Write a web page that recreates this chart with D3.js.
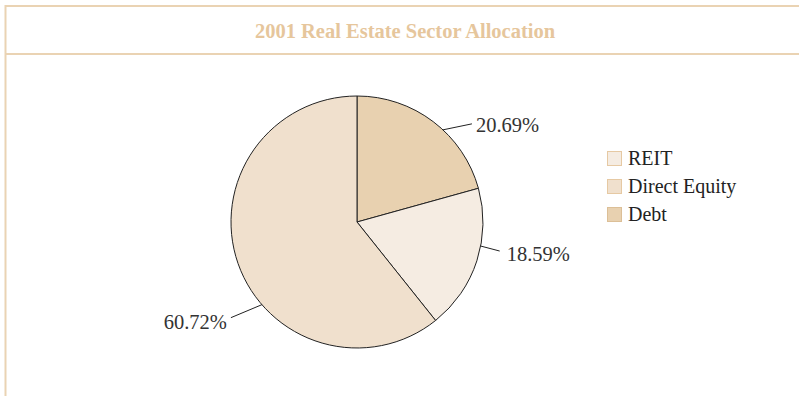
<!DOCTYPE html>
<html>
<head>
<meta charset="utf-8">
<script src="https://cdn.jsdelivr.net/npm/d3@7"></script>
<style>
  html, body { margin: 0; padding: 0; background: #fff; }
  svg { display: block; }
</style>
</head>
<body>
<script>
// Sector allocation data (percent of portfolio)
const categories = ["REIT", "Direct Equity", "Debt"];
const values = [18.59, 60.72, 20.69];
const colors = ["#f5ece2", "#f0e0cd", "#e8d1b0"];
const swatchStroke = ["#e6c9a3", "#e6c9a3", "#dcbf97"];
// Slices are drawn clockwise from 12 o'clock in this order
const drawOrder = ["Debt", "REIT", "Direct Equity"];
// Leader lines: rim angle (degrees clockwise from top), outward run (dx, dy), text gap
const leaderLayout = {
  "Debt":          { angle: 43,  dx: 29,  dy: -6, gap: 4, dyText: 8 },
  "REIT":          { angle: 101, dx: 19,  dy: 5,  gap: 7, dyText: 10 },
  "Direct Equity": { angle: 229, dx: -31, dy: 13, gap: 4, dyText: 11 }
};

const W = 799, H = 396;
const svg = d3.select("body").append("svg").attr("width", W).attr("height", H);
const serif = "'Liberation Serif', 'Times New Roman', serif";

// Frame
const frameColor = "#ead3b3";
svg.append("line").attr("x1", 5).attr("x2", W).attr("y1", 6).attr("y2", 6)
  .attr("stroke", frameColor).attr("stroke-width", 2);
svg.append("line").attr("x1", 5).attr("x2", W).attr("y1", 54).attr("y2", 54)
  .attr("stroke", frameColor).attr("stroke-width", 2);
svg.append("line").attr("x1", 5.5).attr("x2", 5.5).attr("y1", 5).attr("y2", H)
  .attr("stroke", frameColor).attr("stroke-width", 2);

svg.append("text").attr("x", 405).attr("y", 38).attr("text-anchor", "middle")
  .attr("font-family", serif).attr("font-weight", "bold").attr("font-size", 20.5)
  .attr("fill", "#e6c69c").text("2001 Real Estate Sector Allocation");

// Pie
const cx = 357, cy = 222, r = 126;
const data = drawOrder.map(name => {
  const i = categories.indexOf(name);
  return { name, value: values[i], color: colors[i] };
});
const pie = d3.pie().value(d => d.value).sort(null);
const arcs = pie(data);
const arc = d3.arc().innerRadius(0).outerRadius(r);
const g = svg.append("g").attr("transform", `translate(${cx},${cy})`);
g.selectAll("path").data(arcs).join("path")
  .attr("d", arc).attr("fill", d => d.data.color)
  .attr("stroke", "#222").attr("stroke-width", 1);

// Labels with leader lines
const fmt = v => v.toFixed(2) + "%";
arcs.forEach(a => {
  const L = leaderLayout[a.data.name];
  const ang = L.angle * Math.PI / 180;
  const p0 = [r * Math.sin(ang), -r * Math.cos(ang)];
  const p1 = [p0[0] + L.dx, p0[1] + L.dy];
  const right = L.dx >= 0;
  g.append("line").attr("x1", p0[0]).attr("y1", p0[1]).attr("x2", p1[0]).attr("y2", p1[1])
    .attr("stroke", "#222").attr("stroke-width", 1);
  g.append("text")
    .attr("x", p1[0] + (right ? L.gap : -L.gap)).attr("y", p1[1] + L.dyText)
    .attr("text-anchor", right ? "start" : "end")
    .attr("font-family", serif).attr("font-size", 20.5).attr("fill", "#333")
    .text(fmt(a.data.value));
});

// Legend
const legend = svg.append("g").attr("transform", "translate(607,151)");
categories.forEach((c, i) => {
  const row = legend.append("g").attr("transform", `translate(0,${i * 28})`);
  row.append("rect").attr("x", 0.5).attr("y", 0.5).attr("width", 14).attr("height", 14)
    .attr("fill", colors[i]).attr("stroke", swatchStroke[i]).attr("stroke-width", 1);
  row.append("text").attr("x", 21).attr("y", 14)
    .attr("font-family", serif).attr("font-size", 20).attr("fill", "#222").text(c);
});
</script>
</body>
</html>
